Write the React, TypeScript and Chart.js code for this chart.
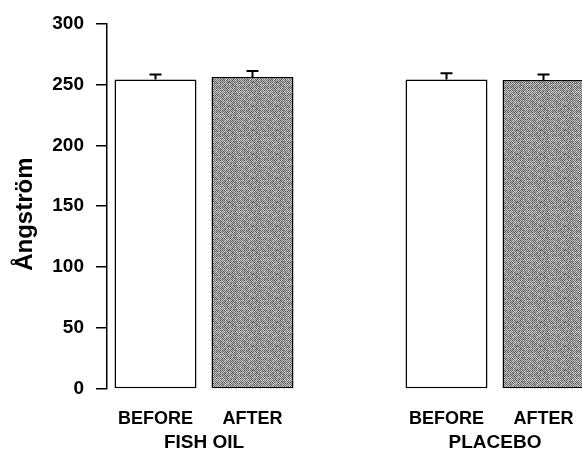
import React, { useEffect, useRef } from "react";
import { Chart, registerables } from "chart.js";

Chart.register(...registerables);

const categories = ["BEFORE", "AFTER", "", "BEFORE", "AFTER"];
const groupLabels = ["FISH OIL", "PLACEBO"];
const groupSpans = [[0, 1], [3, 4]];
const meanValues = [254, 256, null, 254, 253.5];
const errorValues = [4, 5, null, 5, 4.5];
const yTicks = [0, 50, 100, 150, 200, 250, 300];
const yTitle = "Ångström";

const FONT = "'Liberation Sans', Arial, Helvetica, sans-serif";

function makePattern(): CanvasPattern | string {
  const tile = document.createElement("canvas");
  tile.width = 24;
  tile.height = 24;
  const c = tile.getContext("2d");
  if (!c) return "#999";
  for (let y = 0; y < 24; y++) {
    for (let x = 0; x < 24; x++) {
      const h = (((x + 7) * 73856093) ^ ((y + 3) * 19349663)) >>> 0;
      const jitter = (h % 60) - 30;
      const base = (x + y) % 2 === 0 ? 105 : 190;
      const g = Math.max(0, Math.min(255, base + jitter));
      c.fillStyle = `rgb(${g},${g},${g})`;
      c.fillRect(x, y, 1, 1);
    }
  }
  const ctx = document.createElement("canvas").getContext("2d");
  return (ctx && ctx.createPattern(tile, "repeat")) || "#999";
}

const overlayPlugin = {
  id: "overlay",
  afterDatasetsDraw(chart: any) {
    const ctx = chart.ctx;
    const x = chart.scales.x;
    const y = chart.scales.y;
    ctx.save();
    // error bars
    ctx.strokeStyle = "#000";
    ctx.lineWidth = 2;
    meanValues.forEach((v, i) => {
      const e = errorValues[i];
      if (v == null || e == null) return;
      const px = x.getPixelForValue(i);
      const py0 = y.getPixelForValue(v);
      const py1 = y.getPixelForValue(v + e);
      ctx.beginPath();
      ctx.moveTo(px, py0);
      ctx.lineTo(px, py1);
      ctx.moveTo(px - 6, py1);
      ctx.lineTo(px + 6, py1);
      ctx.stroke();
    });
    // group labels
    ctx.fillStyle = "#000";
    ctx.font = `bold 19px ${FONT}`;
    ctx.textAlign = "center";
    ctx.textBaseline = "alphabetic";
    groupLabels.forEach((g, i) => {
      const [a, b] = groupSpans[i];
      const cx = (x.getPixelForValue(a) + x.getPixelForValue(b)) / 2;
      ctx.fillText(g, cx, 448);
    });
    // y title
    ctx.font = `bold 24px ${FONT}`;
    ctx.translate(32, (y.top + y.bottom) / 2 + 8);
    ctx.rotate(-Math.PI / 2);
    ctx.textAlign = "center";
    ctx.fillText(yTitle, 0, 0);
    ctx.restore();
  },
};

export default function App() {
  const ref = useRef<HTMLCanvasElement | null>(null);
  useEffect(() => {
    document.body.style.margin = "0";
    if (!ref.current) return;
    const pattern = makePattern();
    const colors = categories.map((_, i) => (i === 1 || i === 4 ? pattern : "#fff"));
    const chart = new Chart(ref.current, {
      type: "bar",
      data: {
        labels: categories,
        datasets: [
          {
            data: meanValues as any,
            backgroundColor: colors as any,
            borderColor: "#000",
            borderWidth: 1.5,
            borderSkipped: false,
            barPercentage: 0.845,
            categoryPercentage: 1,
          },
        ],
      },
      options: {
        animation: false,
        responsive: false,
        events: [],
        layout: { padding: { top: 22, right: 8, left: 0, bottom: 0 } },
        plugins: { legend: { display: false }, tooltip: { enabled: false } },
        scales: {
          x: {
            offset: true,
            grid: { display: false },
            border: { display: false },
            ticks: {
              color: "#000",
              font: { family: FONT, size: 18, weight: "bold" },
              padding: 11,
              maxRotation: 0,
              autoSkip: false,
            },
            afterFit: (s: any) => {
              s.height = 62;
            },
          },
          y: {
            min: 0,
            max: 300,
            afterBuildTicks: (s: any) => {
              s.ticks = yTicks.map((v) => ({ value: v }));
            },
            grid: {
              drawOnChartArea: false,
              drawTicks: true,
              tickLength: 11,
              color: "#000",
              lineWidth: 1.5,
            },
            border: { display: true, color: "#000", width: 1.5 },
            ticks: {
              color: "#000",
              font: { family: FONT, size: 19, weight: "bold" },
              padding: 12,
            },
            afterFit: (s: any) => {
              s.width = 107;
            },
          },
        },
      },
      plugins: [overlayPlugin],
    });
    return () => chart.destroy();
  }, []);
  return (
    <div style={{ width: 582, height: 451, overflow: "hidden", position: "relative", background: "#fff" }}>
      <canvas ref={ref} width={600} height={451} style={{ display: "block", width: 600, height: 451 }} />
    </div>
  );
}
